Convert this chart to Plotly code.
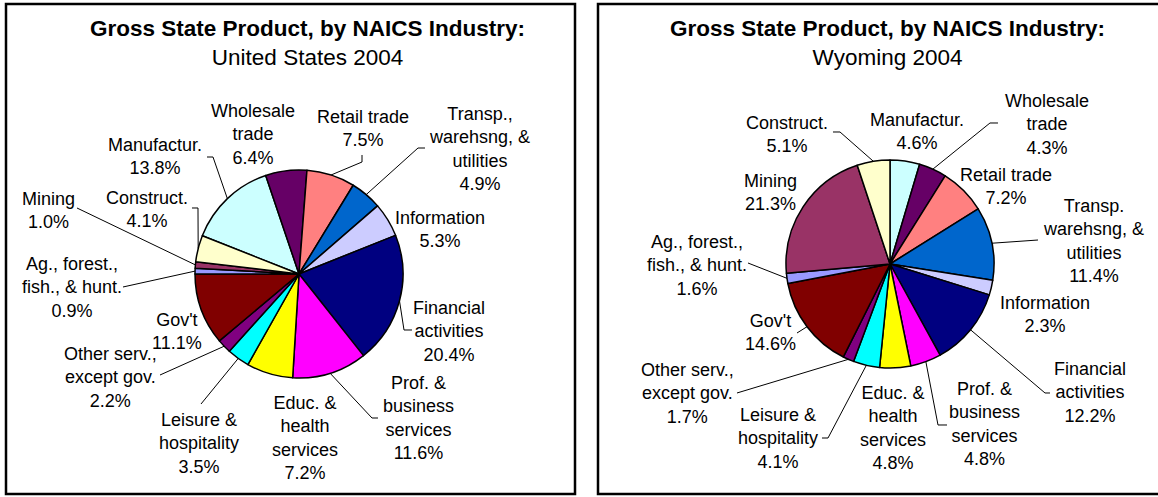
import math
import plotly.graph_objects as go

W, H = 1158, 497

# industries in pie order (clockwise)
industries = ["Manufactur.", "Wholesale<br>trade", "Retail trade", "Transp.,<br>warehsng, &<br>utilities",
              "Information", "Financial<br>activities", "Prof. &<br>business<br>services",
              "Educ. &<br>health<br>services", "Leisure &<br>hospitality", "Other serv.,<br>except gov.",
              "Gov't", "Ag., forest.,<br>fish., & hunt.", "Mining", "Construct."]
industries_wy = list(industries)
industries_wy[3] = "Transp.<br>warehsng, &<br>utilities"

colors = ["#CCFFFF", "#660066", "#FF8080", "#0066CC", "#CCCCFF", "#000080", "#FF00FF",
          "#FFFF00", "#00FFFF", "#800080", "#800000", "#9999FF", "#993366", "#FFFFCC"]

us_share = [13.8, 6.4, 7.5, 4.9, 5.3, 20.4, 11.6, 7.2, 3.5, 2.2, 11.1, 0.9, 1.0, 4.1]
wy_share = [4.6, 4.3, 7.2, 11.4, 2.3, 12.2, 4.8, 4.8, 4.1, 1.7, 14.6, 1.6, 21.3, 5.1]

FONT = "Arial, Liberation Sans, sans-serif"


def px(x):
    return x / W


def py(y):
    return 1 - y / H


# layout per chart: pie centre/radius, start angle, label centres, leader elbows
charts = [
    dict(
        title="<b>Gross State Product, by NAICS Industry:</b><br>United States 2004",
        title_x=307, values=us_share, names=industries,
        cx=299, cy=274, r=104, start=-68.4, box=(6, 4, 575, 494),
        labels=[(155, 157), (253, 134), (363, 128), (479, 149), (440, 229), (449, 331), (418, 418),
                (305, 438), (199, 443), (111, 377), (177, 331), (72, 287), (48, 210), (147, 209)],
        leaders={0: [(207, 157), (213, 157)], 2: [(362, 155), (362, 162)], 3: [(425, 148), (418, 148)],
                 5: [(412, 330), (404, 330)], 6: [(378, 418), (372, 418)], 8: [(201, 404)],
                 9: [(160, 375)], 11: [(123, 287)], 12: [(77, 208)], 13: [(192, 208), (198, 208)]},
    ),
    dict(
        title="<b>Gross State Product, by NAICS Industry:</b><br>Wyoming 2004",
        title_x=887, values=wy_share, names=industries_wy,
        cx=890, cy=264, r=104, start=0, box=(598, 4, 1170, 494),
        labels=[(917, 131), (1047, 125), (1006, 186), (1093, 241), (1045, 314), (1090, 392), (984, 424),
                (893, 428), (778, 438), (687, 393), (770, 332), (697, 265), (770, 192), (787, 134)],
        leaders={1: [(998, 123), (990, 123)], 3: [(1038, 240)], 5: [(1050, 393), (1045, 393)],
                 6: [(947, 425), (938, 425)], 8: [(822, 438), (828, 438)], 9: [(737, 393)],
                 10: [(797, 333)], 11: [(748, 263)], 13: [(833, 132), (840, 132)]},
    ),
]

fig = go.Figure()
annotations = []
shapes = []

for c in charts:
    cx, cy, r = c["cx"], c["cy"], c["r"]
    fig.add_trace(go.Pie(
        values=c["values"], labels=[n.replace("<br>", " ") for n in c["names"]],
        sort=False, direction="clockwise", rotation=c["start"],
        marker=dict(colors=colors, line=dict(color="black", width=1.5)),
        textinfo="none", hoverinfo="label+percent", showlegend=False,
        domain=dict(x=[px(cx - r), px(cx + r)], y=[py(cy + r), py(cy - r)]),
    ))

    x0, y0, x1, y1 = c["box"]
    shapes.append(dict(type="rect", xref="paper", yref="paper",
                       x0=px(x0), x1=px(x1), y0=py(y0), y1=py(y1),
                       line=dict(color="black", width=2.5)))

    annotations.append(dict(text=c["title"], x=px(c["title_x"]), y=py(43), xref="paper", yref="paper",
                            showarrow=False, font=dict(family=FONT, size=22.5, color="black"),
                            xanchor="center", yanchor="middle", align="center"))

    total = sum(c["values"])
    acc = 0
    for i, (name, v) in enumerate(zip(c["names"], c["values"])):
        mid = c["start"] + (acc + v / 2) / total * 360
        acc += v
        lx, ly = c["labels"][i]
        annotations.append(dict(text=f"{name}<br>{v:.1f}%", x=px(lx), y=py(ly), xref="paper", yref="paper",
                                showarrow=False, font=dict(family=FONT, size=18, color="black"),
                                xanchor="center", yanchor="middle", align="center"))
        if i in c["leaders"]:
            # leader ends on the pie edge at the slice's middle angle
            ex = cx + r * math.sin(math.radians(mid))
            ey = cy - r * math.cos(math.radians(mid))
            pts = c["leaders"][i] + [(ex, ey)]
            path = "M " + " L ".join(f"{px(a):.5f},{py(b):.5f}" for a, b in pts)
            shapes.append(dict(type="path", xref="paper", yref="paper", path=path,
                               line=dict(color="black", width=1)))

fig.update_layout(
    width=W, height=H, margin=dict(l=0, r=0, t=0, b=0),
    paper_bgcolor="white", plot_bgcolor="white",
    annotations=annotations, shapes=shapes,
)

# page body has a default 8px margin; drop it so the figure sits at the window's corner
fig.write_html("out.html", config={"displayModeBar": False},
               post_script="document.body.style.margin='0';")
